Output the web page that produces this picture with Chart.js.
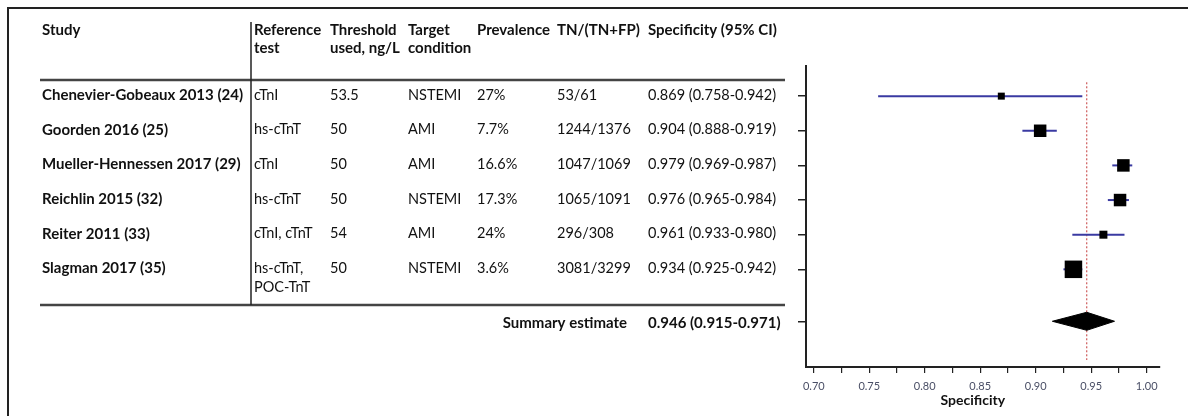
<!DOCTYPE html>
<html>
<head>
<meta charset="utf-8">
<title>Specificity forest plot</title>
<script src="https://cdn.jsdelivr.net/npm/chart.js@4.4.1/dist/chart.umd.min.js"></script>
<style>
  html, body { margin: 0; padding: 0; background: #fff; }
  #wrap { width: 1188px; height: 416px; }
</style>
</head>
<body>
<div id="wrap"><canvas id="forest" width="1188" height="416"></canvas></div>
<script>
// --- Data ---
const studies = ['Chenevier-Gobeaux 2013 (24)', 'Goorden 2016 (25)', 'Mueller-Hennessen 2017 (29)',
                 'Reichlin 2015 (32)', 'Reiter 2011 (33)', 'Slagman 2017 (35)'];
const referenceTests = [['cTnI'], ['hs-cTnT'], ['cTnI'], ['hs-cTnT'], ['cTnI, cTnT'], ['hs-cTnT,', 'POC-TnT']];
const thresholds = ['53.5', '50', '50', '50', '54', '50'];
const targetConditions = ['NSTEMI', 'AMI', 'AMI', 'NSTEMI', 'AMI', 'NSTEMI'];
const prevalence = ['27%', '7.7%', '16.6%', '17.3%', '24%', '3.6%'];
const trueNegatives = [53, 1244, 1047, 1065, 296, 3081];
const tnFpTotals = [61, 1376, 1069, 1091, 308, 3299];
const specificity = [0.869, 0.904, 0.979, 0.976, 0.961, 0.934];
const ciLow = [0.758, 0.888, 0.969, 0.965, 0.933, 0.925];
const ciHigh = [0.942, 0.919, 0.987, 0.984, 0.980, 0.942];
const studyWeights = [5.5, 17.6, 17.6, 17.6, 7.2, 34.5]; // relative weight (%)

const summaryEstimate = 0.946;
const summaryLow = 0.915;
const summaryHigh = 0.971;

const xTickValues = [0.70, 0.725, 0.75, 0.775, 0.80, 0.825, 0.85, 0.875, 0.90, 0.925, 0.95, 0.975, 1.00];
const rowPositions = [0, 1, 2, 3, 4, 5];
const summaryRow = 6.5;

// --- Styles ---
const CI_COLOR = '#3a3aa2';
const REF_COLOR = '#c43a3a';
const INK = '#111';
const FONT = 'Lato, "Open Sans", sans-serif';

function fmt(v) { return v.toFixed(3); }

// --- Datasets built from the arrays ---
const ciDatasets = studies.map((name, i) => ({
    label: name + ' CI',
    data: [{ x: ciLow[i], y: rowPositions[i] }, { x: ciHigh[i], y: rowPositions[i] }],
    showLine: true,
    borderColor: CI_COLOR,
    borderWidth: 2,
    pointRadius: 0,
    order: 2
}));

const boxDataset = {
    label: 'Specificity',
    data: studies.map((_, i) => ({ x: specificity[i], y: rowPositions[i] })),
    pointStyle: 'rect',
    pointRadius: studyWeights.map(w => 2.98 * Math.sqrt(w) / Math.SQRT2),
    backgroundColor: '#000',
    borderColor: '#000',
    borderWidth: 0,
    showLine: false,
    order: 0
};

const diamondHalf = 0.26;
const diamondDataset = {
    label: 'Summary estimate',
    data: [
        { x: summaryLow, y: summaryRow },
        { x: summaryEstimate, y: summaryRow - diamondHalf },
        { x: summaryHigh, y: summaryRow },
        { x: summaryEstimate, y: summaryRow + diamondHalf },
        { x: summaryLow, y: summaryRow }
    ],
    showLine: true,
    fill: 'shape',
    backgroundColor: '#000',
    borderColor: '#000',
    borderWidth: 1,
    pointRadius: 0,
    tension: 0,
    order: 1
};

const refLineDataset = {
    label: 'Summary line',
    data: [{ x: summaryEstimate, y: -0.4 }, { x: summaryEstimate, y: 7.62 }],
    showLine: true,
    borderColor: REF_COLOR,
    borderWidth: 1,
    borderDash: [2, 2],
    pointRadius: 0,
    order: 3
};

// --- Table + frame drawn around the plot ---
const tablePlugin = {
    id: 'forestTable',
    afterDraw(chart) {
        const ctx = chart.ctx;
        const y = chart.scales.y;
        ctx.save();

        // outer frame (top and left edges)
        ctx.strokeStyle = '#222';
        ctx.lineWidth = 2;
        ctx.beginPath();
        ctx.moveTo(8, 416); ctx.lineTo(8, 8); ctx.lineTo(1188, 8);
        ctx.stroke();

        // table rules
        ctx.strokeStyle = '#444';
        ctx.lineWidth = 2.5;
        ctx.beginPath();
        ctx.moveTo(40, 80); ctx.lineTo(785, 80);
        ctx.moveTo(40, 305); ctx.lineTo(785, 305);
        ctx.stroke();
        ctx.lineWidth = 1.5;
        ctx.strokeStyle = '#222';
        ctx.beginPath();
        ctx.moveTo(251, 22); ctx.lineTo(251, 305);
        ctx.stroke();

        ctx.fillStyle = INK;
        ctx.textBaseline = 'middle';
        ctx.textAlign = 'left';

        const bold = 'bold 15px ' + FONT;
        const normal = '14.5px ' + FONT;

        // header
        ctx.font = bold;
        const cols = { study: 42, ref: 254, thr: 330, target: 408, prev: 477, tn: 557, spec: 648 };
        const h1 = 30, h2 = 48;
        ctx.fillText('Study', cols.study, h1);
        ctx.fillText('Reference', cols.ref, h1); ctx.fillText('test', cols.ref, h2);
        ctx.fillText('Threshold', cols.thr, h1); ctx.fillText('used, ng/L', cols.thr, h2);
        ctx.fillText('Target', cols.target, h1); ctx.fillText('condition', cols.target, h2);
        ctx.fillText('Prevalence', cols.prev, h1);
        ctx.fillText('TN/(TN+FP)', cols.tn, h1);
        ctx.fillText('Specificity (95% CI)', cols.spec, h1);

        // rows
        studies.forEach((name, i) => {
            const py = y.getPixelForValue(rowPositions[i]) - 1;
            ctx.font = bold;
            ctx.fillText(name, cols.study, py);
            ctx.font = normal;
            referenceTests[i].forEach((line, k) => ctx.fillText(line, cols.ref, py + k * 19));
            ctx.fillText(thresholds[i], cols.thr, py);
            ctx.fillText(targetConditions[i], cols.target, py);
            ctx.fillText(prevalence[i], cols.prev, py);
            ctx.fillText(trueNegatives[i] + '/' + tnFpTotals[i], cols.tn, py);
            ctx.fillText(fmt(specificity[i]) + ' (' + fmt(ciLow[i]) + '-' + fmt(ciHigh[i]) + ')', cols.spec, py);
        });

        // summary row
        const sy = y.getPixelForValue(summaryRow) + 2;
        ctx.font = bold;
        ctx.textAlign = 'right';
        ctx.fillText('Summary estimate', 627, sy);
        ctx.textAlign = 'left';
        ctx.fillText(fmt(summaryEstimate) + ' (' + fmt(summaryLow) + '-' + fmt(summaryHigh) + ')', cols.spec, sy);

        ctx.restore();
    }
};

new Chart(document.getElementById('forest'), {
    type: 'scatter',
    data: { datasets: [boxDataset, diamondDataset, ...ciDatasets, refLineDataset] },
    options: {
        responsive: false,
        animation: false,
        events: [],
        layout: { padding: { left: 798, top: 66, right: 28, bottom: 0 } },
        plugins: { legend: { display: false }, tooltip: { enabled: false } },
        scales: {
            x: {
                type: 'linear',
                min: 0.693,
                max: 1.012,
                afterBuildTicks: (scale) => { scale.ticks = xTickValues.map(v => ({ value: v })); },
                grid: { drawOnChartArea: false, drawTicks: true, tickLength: 6, color: '#222', lineWidth: 1.2 },
                border: { display: true, color: '#222', width: 2 },
                ticks: {
                    autoSkip: false,
                    maxRotation: 0,
                    padding: 7,
                    color: '#4a4f66',
                    font: { family: FONT, size: 11 },
                    callback: (v) => (Math.round(v * 1000) % 50 === 0 ? v.toFixed(2) : '')
                },
                title: {
                    display: true,
                    text: 'Specificity      ',
                    color: INK,
                    font: { family: FONT, size: 14, weight: 'bold' },
                    padding: { top: -8, bottom: 7 }
                }
            },
            y: {
                type: 'linear',
                reverse: true,
                min: -0.87,
                max: 7.82,
                afterBuildTicks: (scale) => {
                    scale.ticks = rowPositions.concat([summaryRow]).map(v => ({ value: v }));
                },
                grid: { drawOnChartArea: false, drawTicks: true, tickLength: 8, color: '#222', lineWidth: 1.5 },
                border: { display: true, color: '#222', width: 2 },
                ticks: { display: false }
            }
        }
    },
    plugins: [tablePlugin]
});
</script>
</body>
</html>
